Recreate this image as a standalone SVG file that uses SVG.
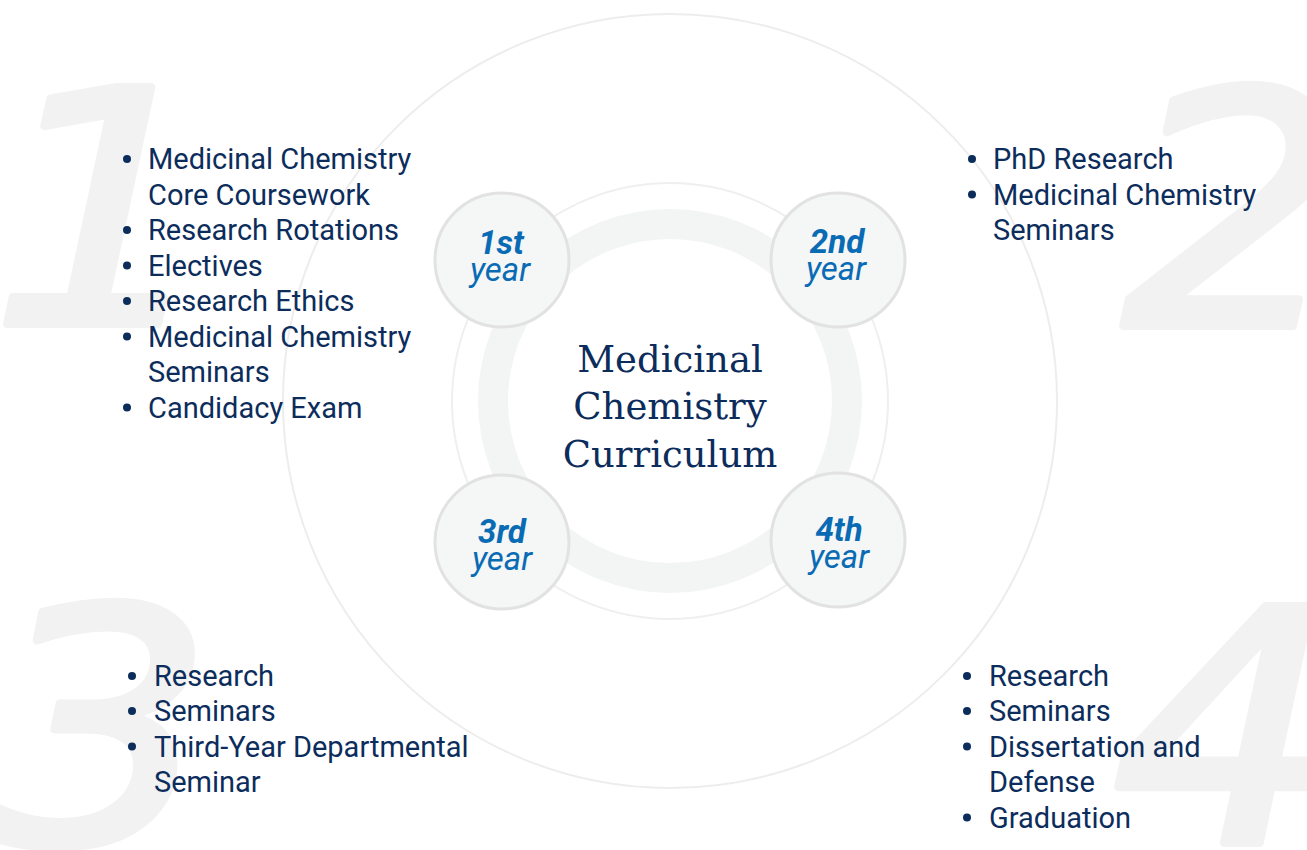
<svg xmlns="http://www.w3.org/2000/svg" width="1307" height="850" viewBox="0 0 1307 850">
<style>
.num{font-family:"DejaVu Sans",sans-serif;font-style:oblique;font-size:325px;fill:#f2f2f2;stroke:#f2f2f2;stroke-width:8;stroke-linejoin:round}
.li{font-family:Roboto,"Liberation Sans",sans-serif;font-size:29px;fill:#0c2d5c}
.dot{fill:#0c2d5c}
.yr{fill:#f5f6f6;stroke:#e2e2e2;stroke-width:3}
.ord{font-family:Roboto,"Liberation Sans",sans-serif;font-size:33px;font-weight:bold;font-style:italic;fill:#0a6bb5;text-anchor:middle}
.yw{font-family:Roboto,"Liberation Sans",sans-serif;font-size:33px;font-style:italic;fill:#0a6bb5;text-anchor:middle}
.title{font-family:"DejaVu Serif",serif;font-size:37px;fill:#0c2d5c;text-anchor:middle}
</style>
<rect width="1307" height="850" fill="#ffffff"/>
<g id="numerals">
<text class="num" transform="translate(-10,324) scale(1.1,1)">1</text>
<text class="num" transform="translate(1122,326) scale(1.1,1)">2</text>
<text class="num" transform="translate(-14,843) scale(1.1,1)">3</text>
<text class="num" transform="translate(1112,843) scale(1.1,1)">4</text>
</g>
<g id="connectors" fill="none">
<circle cx="670" cy="401" r="387" stroke="#ededed" stroke-width="2"/>
<circle cx="670" cy="401" r="218" stroke="#efefef" stroke-width="2"/>
<circle cx="670" cy="401" r="177" stroke="#f3f4f4" stroke-width="30"/>
</g>
<g id="center">
<text class="title" x="670" y="372">Medicinal</text>
<text class="title" x="670" y="419">Chemistry</text>
<text class="title" x="670" y="467">Curriculum</text>
</g>
<g id="year1">
<circle class="yr" cx="502" cy="260" r="67"/>
<text class="ord" x="501" y="254">1st</text>
<text class="yw" x="500" y="281">year</text>
</g>
<g id="year2">
<circle class="yr" cx="838" cy="260" r="67"/>
<text class="ord" x="837" y="253">2nd</text>
<text class="yw" x="836" y="280">year</text>
</g>
<g id="year3">
<circle class="yr" cx="502" cy="542" r="67"/>
<text class="ord" x="502" y="543">3rd</text>
<text class="yw" x="502" y="570">year</text>
</g>
<g id="year4">
<circle class="yr" cx="838" cy="540" r="67"/>
<text class="ord" x="839" y="541">4th</text>
<text class="yw" x="839" y="568">year</text>
</g>
<g id="list1">
<circle class="dot" cx="127" cy="159" r="4"/>
<circle class="dot" cx="127" cy="230" r="4"/>
<circle class="dot" cx="127" cy="265.5" r="4"/>
<circle class="dot" cx="127" cy="301" r="4"/>
<circle class="dot" cx="127" cy="336.5" r="4"/>
<circle class="dot" cx="127" cy="407.5" r="4"/>
<text class="li" x="148" y="169">Medicinal Chemistry</text>
<text class="li" x="148" y="204.5">Core Coursework</text>
<text class="li" x="148" y="240">Research Rotations</text>
<text class="li" x="148" y="275.5">Electives</text>
<text class="li" x="148" y="311">Research Ethics</text>
<text class="li" x="148" y="346.5">Medicinal Chemistry</text>
<text class="li" x="148" y="382">Seminars</text>
<text class="li" x="148" y="417.5">Candidacy Exam</text>
</g>
<g id="list2">
<circle class="dot" cx="972" cy="159" r="4"/>
<circle class="dot" cx="972" cy="194.5" r="4"/>
<text class="li" x="993" y="169">PhD Research</text>
<text class="li" x="993" y="204.5">Medicinal Chemistry</text>
<text class="li" x="993" y="240">Seminars</text>
</g>
<g id="list3">
<circle class="dot" cx="132" cy="676" r="4"/>
<circle class="dot" cx="132" cy="711" r="4"/>
<circle class="dot" cx="132" cy="746.5" r="4"/>
<text class="li" x="154" y="686">Research</text>
<text class="li" x="154" y="721">Seminars</text>
<text class="li" x="154" y="756.5">Third-Year Departmental</text>
<text class="li" x="154" y="792">Seminar</text>
</g>
<g id="list4">
<circle class="dot" cx="967" cy="676" r="4"/>
<circle class="dot" cx="967" cy="711" r="4"/>
<circle class="dot" cx="967" cy="746.5" r="4"/>
<circle class="dot" cx="967" cy="817.5" r="4"/>
<text class="li" x="989" y="686">Research</text>
<text class="li" x="989" y="721">Seminars</text>
<text class="li" x="989" y="756.5">Dissertation and</text>
<text class="li" x="989" y="792">Defense</text>
<text class="li" x="989" y="827.5">Graduation</text>
</g>
</svg>
